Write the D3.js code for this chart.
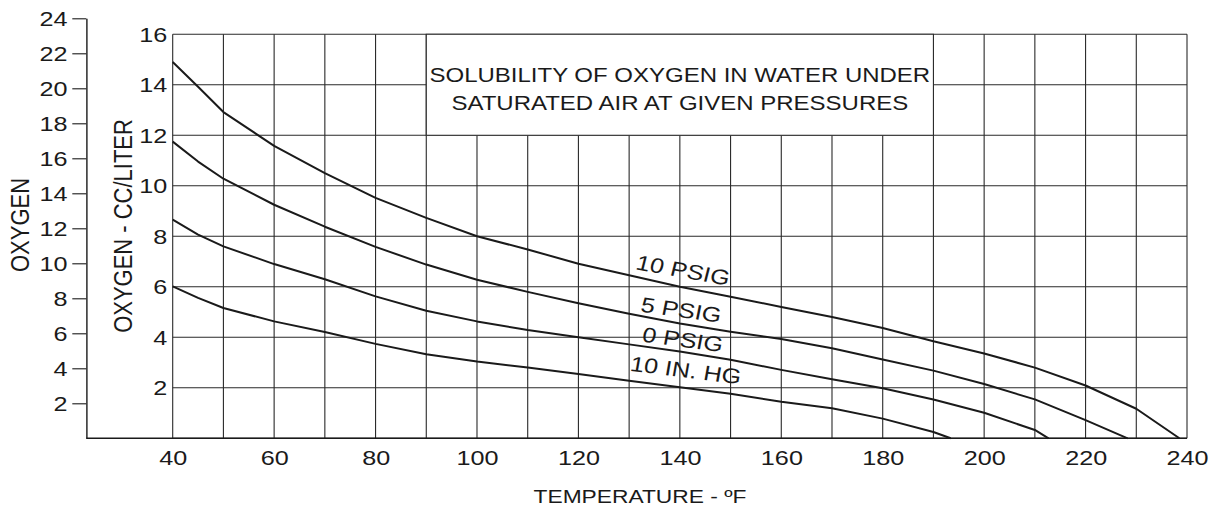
<!DOCTYPE html>
<html>
<head>
<meta charset="utf-8">
<script src="https://cdn.jsdelivr.net/npm/d3@7"></script>
<style>
  body { margin: 0; background: #fff; }
  svg { display: block; }
  text { font-family: "Liberation Sans", Arial, Helvetica, sans-serif; fill: #1a1a1a; }
</style>
</head>
<body>
<svg id="chart" width="1218" height="508"></svg>
<script>
// ---------------- DATA ----------------
const seriesNames = ["10 PSIG", "5 PSIG", "0 PSIG", "10 IN. HG"];

const temps10psig  = [40, 45, 50, 60, 70, 80, 90, 100, 110, 120, 130, 140, 150, 160, 170, 180, 190, 200, 210, 220, 230, 238.5];
const oxygen10psig = [14.9, 13.92, 12.92, 11.58, 10.5, 9.52, 8.73, 8.0, 7.48, 6.91, 6.46, 6.0, 5.61, 5.2, 4.8, 4.37, 3.84, 3.36, 2.8, 2.09, 1.17, 0];

const temps5psig   = [40, 45, 50, 60, 70, 80, 90, 100, 110, 120, 130, 140, 150, 160, 170, 180, 190, 200, 210, 220, 228.3];
const oxygen5psig  = [11.75, 10.96, 10.28, 9.25, 8.38, 7.58, 6.88, 6.28, 5.8, 5.35, 4.93, 4.55, 4.22, 3.93, 3.57, 3.12, 2.68, 2.15, 1.54, 0.72, 0];

const temps0psig   = [40, 45, 50, 60, 70, 80, 90, 100, 110, 120, 130, 140, 150, 160, 170, 180, 190, 200, 210, 212.7];
const oxygen0psig  = [8.66, 8.07, 7.6, 6.9, 6.3, 5.62, 5.05, 4.63, 4.29, 4.0, 3.72, 3.44, 3.11, 2.71, 2.34, 1.98, 1.54, 1.01, 0.33, 0];

const temps10inHg  = [40, 45, 50, 60, 70, 80, 90, 100, 110, 120, 130, 140, 150, 160, 170, 180, 190, 193.4];
const oxygen10inHg = [6.02, 5.56, 5.16, 4.63, 4.21, 3.74, 3.33, 3.04, 2.8, 2.55, 2.28, 2.02, 1.76, 1.45, 1.19, 0.78, 0.25, 0];

const xTickLabels     = [40, 60, 80, 100, 120, 140, 160, 180, 200, 220, 240];
const innerTickLabels = [2, 4, 6, 8, 10, 12, 14, 16];
const outerTickLabels = [2, 4, 6, 8, 10, 12, 14, 16, 18, 20, 22, 24];
const titleLines = ["SOLUBILITY OF OXYGEN IN WATER UNDER", "SATURATED AIR AT GIVEN PRESSURES"];

// ---------------- LAYOUT ----------------
const SX = 1.2;               // horizontal stretch of the whole drawing
const ink = "#1a1a1a";
const gridCol = "#2a2a2a";

const x = d3.scaleLinear().domain([40, 240]).range([172.7 / SX, 1187 / SX]);
const y = d3.scaleLinear().domain([0, 16]).range([438.3, 34.3]);
const yOuter = d3.scaleLinear().domain([0, 24]).range([438.3, 18.3]);
const outerAxisX = 86.3 / SX;

const svg = d3.select("#chart");
const root = svg.append("g").attr("transform", `scale(${SX},1)`);

// grid
const grid = root.append("g");
const vGrid = d3.range(40, 241, 10);
const hGrid = d3.range(0, 17, 2);
grid.selectAll("line.v").data(vGrid).join("line")
  .attr("x1", d => x(d)).attr("x2", d => x(d))
  .attr("y1", y(0)).attr("y2", y(16))
  .attr("stroke", gridCol).attr("stroke-width", 1.1)
  .attr("vector-effect", "non-scaling-stroke");
grid.selectAll("line.h").data(hGrid).join("line")
  .attr("x1", x(40)).attr("x2", x(240))
  .attr("y1", d => y(d)).attr("y2", d => y(d))
  .attr("stroke", gridCol).attr("stroke-width", 1.1)
  .attr("vector-effect", "non-scaling-stroke");

// bottom baseline extending to the outer axis
root.append("line")
  .attr("x1", outerAxisX).attr("x2", x(240))
  .attr("y1", y(0)).attr("y2", y(0))
  .attr("stroke", ink).attr("stroke-width", 1.4)
  .attr("vector-effect", "non-scaling-stroke");

// title box (covers the grid from 90 to 190 °F, 12 to 16)
root.append("rect")
  .attr("x", x(90)).attr("y", y(16))
  .attr("width", x(190) - x(90)).attr("height", y(12) - y(16))
  .attr("fill", "#fff").attr("stroke", gridCol).attr("stroke-width", 1.1)
  .attr("vector-effect", "non-scaling-stroke");
const titleCx = (x(90) + x(190)) / 2;
root.selectAll("text.title").data(titleLines).join("text")
  .attr("class", "title")
  .attr("x", titleCx)
  .attr("y", (d, i) => 82 + i * 28)
  .attr("text-anchor", "middle")
  .attr("font-size", 20)
  .text(d => d);

// curves
const series = [
  { name: seriesNames[0], t: temps10psig, v: oxygen10psig },
  { name: seriesNames[1], t: temps5psig,  v: oxygen5psig },
  { name: seriesNames[2], t: temps0psig,  v: oxygen0psig },
  { name: seriesNames[3], t: temps10inHg, v: oxygen10inHg }
];
const line = d3.line().x(d => x(d[0])).y(d => y(d[1]));
root.selectAll("path.curve").data(series).join("path")
  .attr("class", "curve")
  .attr("d", s => line(s.t.map((t, i) => [t, s.v[i]])))
  .attr("fill", "none").attr("stroke", ink).attr("stroke-width", 2)
  .attr("stroke-linejoin", "round")
  .attr("vector-effect", "non-scaling-stroke");

// curve labels (anchor in data units, apparent angle in degrees)
const labelAnchors = [[131.1, 6.7, 10], [132.1, 5.02, 8], [132.4, 3.83, 7.5], [130.0, 2.68, 7]];
root.selectAll("text.clabel").data(series).join("text")
  .attr("class", "clabel")
  .attr("font-size", 21)
  .attr("transform", (s, i) => {
    const a = labelAnchors[i];
    const ang = Math.atan(Math.tan(a[2] * Math.PI / 180) * SX) * 180 / Math.PI;
    return `translate(${x(a[0])},${y(a[1])}) rotate(${ang})`;
  })
  .text(s => s.name);

// outer axis (0..24)
const outerAxis = d3.axisLeft(yOuter).tickValues(outerTickLabels).tickSize(14 / SX).tickSizeOuter(0).tickPadding(4);
const og = root.append("g").attr("transform", `translate(${outerAxisX},0)`).call(outerAxis);
og.select(".domain").attr("stroke", ink).attr("stroke-width", 1.4).attr("vector-effect", "non-scaling-stroke");
og.selectAll(".tick line").attr("stroke", ink).attr("stroke-width", 1.1).attr("vector-effect", "non-scaling-stroke");
og.selectAll(".tick text").attr("font-size", 21).attr("font-family", "Liberation Sans, Arial, sans-serif").attr("fill", ink);

// inner axis labels (0..16)
const innerAxis = d3.axisLeft(y).tickValues(innerTickLabels).tickSize(0).tickPadding(4.5);
const ig = root.append("g").attr("transform", `translate(${x(40)},0)`).call(innerAxis);
ig.select(".domain").remove();
ig.selectAll(".tick text").attr("font-size", 21).attr("font-family", "Liberation Sans, Arial, sans-serif").attr("fill", ink);

// x axis labels
const xAxis = d3.axisBottom(x).tickValues(xTickLabels).tickSize(0).tickPadding(12).tickFormat(d3.format("d"));
const xg = root.append("g").attr("transform", `translate(0,${y(0)})`).call(xAxis);
xg.select(".domain").remove();
xg.selectAll(".tick text").attr("font-size", 21).attr("font-family", "Liberation Sans, Arial, sans-serif").attr("fill", ink);

// axis titles
root.append("text")
  .attr("x", 640 / SX).attr("y", 503)
  .attr("text-anchor", "middle").attr("font-size", 19)
  .text("TEMPERATURE - ºF");
root.append("text")
  .attr("transform", `translate(${29 / SX},225) rotate(-90)`)
  .attr("text-anchor", "middle").attr("font-size", 22)
  .text("OXYGEN");
root.append("text")
  .attr("transform", `translate(${110},226) rotate(-90)`)
  .attr("text-anchor", "middle").attr("font-size", 22)
  .text("OXYGEN - CC/LITER");
</script>
</body>
</html>
